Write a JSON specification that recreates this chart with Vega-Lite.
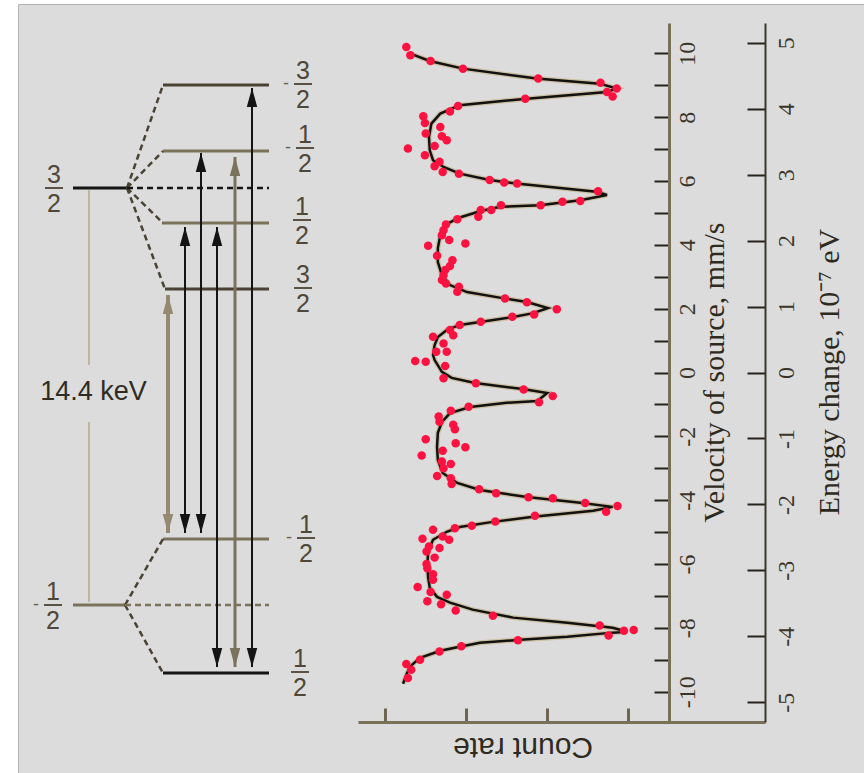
{
  "$schema": "https://vega.github.io/schema/vega-lite/v6.json",
  "width": 864,
  "height": 773,
  "autosize": {"type": "fit", "contains": "padding"},
  "padding": {"left": 18, "top": 4, "right": 0, "bottom": 0},
  "background": "#ffffff",
  "config": {"view": {"fill": "#dcdcdc", "stroke": "#b4b4b4", "strokeWidth": 1}, "axis": {"grid": false}},
  "datasets": {
    "fit": [
      {"v":-9.75,"c":3.78},{"v":-9.41,"c":3.73},{"v":-9.16,"c":3.67},{"v":-8.94,"c":3.57},{"v":-8.72,"c":3.32},{"v":-8.59,"c":3.08},{"v":-8.47,"c":2.83},{"v":-8.37,"c":2.33},{"v":-8.28,"c":1.75},{"v":-8.15,"c":1.19},{"v":-8.12,"c":1.01},{"v":-8.00,"c":1.19},{"v":-7.84,"c":1.75},{"v":-7.68,"c":2.42},{"v":-7.43,"c":2.92},{"v":-7.21,"c":3.20},{"v":-7.03,"c":3.36},{"v":-6.74,"c":3.45},{"v":-6.43,"c":3.47},{"v":-6.03,"c":3.48},{"v":-5.62,"c":3.47},{"v":-5.24,"c":3.41},{"v":-4.99,"c":3.24},{"v":-4.84,"c":3.08},{"v":-4.68,"c":2.67},{"v":-4.52,"c":2.17},{"v":-4.33,"c":1.43},{"v":-4.21,"c":1.19},{"v":-4.08,"c":1.59},{"v":-3.90,"c":2.25},{"v":-3.68,"c":2.83},{"v":-3.46,"c":3.11},{"v":-3.15,"c":3.29},{"v":-2.74,"c":3.35},{"v":-2.33,"c":3.36},{"v":-1.89,"c":3.35},{"v":-1.55,"c":3.30},{"v":-1.27,"c":3.20},{"v":-1.08,"c":2.95},{"v":-0.95,"c":2.50},{"v":-0.89,"c":2.12},{"v":-0.64,"c":2.00},{"v":-0.52,"c":2.30},{"v":-0.33,"c":2.89},{"v":-0.17,"c":3.18},{"v":0.02,"c":3.30},{"v":0.39,"c":3.39},{"v":0.55,"c":3.41},{"v":0.86,"c":3.39},{"v":1.11,"c":3.35},{"v":1.33,"c":3.24},{"v":1.49,"c":3.08},{"v":1.58,"c":2.83},{"v":1.74,"c":2.42},{"v":1.86,"c":2.17},{"v":2.02,"c":1.99},{"v":2.21,"c":2.25},{"v":2.33,"c":2.55},{"v":2.52,"c":2.99},{"v":2.74,"c":3.20},{"v":3.05,"c":3.30},{"v":3.46,"c":3.35},{"v":3.90,"c":3.35},{"v":4.30,"c":3.32},{"v":4.62,"c":3.26},{"v":4.84,"c":3.10},{"v":5.05,"c":2.83},{"v":5.19,"c":2.58},{"v":5.24,"c":2.09},{"v":5.40,"c":1.59},{"v":5.56,"c":1.26},{"v":5.66,"c":1.39},{"v":5.92,"c":2.38},{"v":6.03,"c":2.71},{"v":6.23,"c":3.08},{"v":6.44,"c":3.28},{"v":6.65,"c":3.41},{"v":6.96,"c":3.45},{"v":7.38,"c":3.46},{"v":7.80,"c":3.43},{"v":8.11,"c":3.32},{"v":8.37,"c":3.08},{"v":8.58,"c":2.25},{"v":8.79,"c":1.26},{"v":8.90,"c":1.14},{"v":9.05,"c":1.35},{"v":9.21,"c":2.13},{"v":9.52,"c":3.04},{"v":9.76,"c":3.45},{"v":9.99,"c":3.69}
    ],
    "pts": [
      {"v":10.20,"c":3.74},{"v":9.94,"c":3.69},{"v":9.76,"c":3.44},{"v":9.52,"c":3.04},{"v":9.21,"c":2.11},{"v":9.08,"c":1.34},{"v":8.90,"c":1.14},{"v":8.79,"c":1.26},{"v":8.65,"c":1.19},{"v":8.58,"c":2.27},{"v":8.35,"c":3.10},{"v":8.18,"c":3.20},{"v":8.03,"c":3.53},{"v":7.82,"c":3.51},{"v":7.69,"c":3.32},{"v":7.49,"c":3.50},{"v":7.40,"c":3.30},{"v":7.28,"c":3.24},{"v":7.02,"c":3.72},{"v":7.10,"c":3.39},{"v":6.81,"c":3.51},{"v":6.60,"c":3.33},{"v":6.46,"c":3.39},{"v":6.28,"c":3.29},{"v":6.23,"c":3.09},{"v":6.03,"c":2.71},{"v":5.95,"c":2.53},{"v":5.92,"c":2.37},{"v":5.68,"c":1.37},
      {"v":5.37,"c":1.59},{"v":5.35,"c":1.81},{"v":5.24,"c":2.08},{"v":5.24,"c":2.57},{"v":5.09,"c":2.69},{"v":5.09,"c":2.82},{"v":4.88,"c":2.85},{"v":4.80,"c":3.11},{"v":4.64,"c":3.25},{"v":4.46,"c":3.28},{"v":4.30,"c":3.30},{"v":4.15,"c":3.21},{"v":3.97,"c":3.47},{"v":4.04,"c":3.01},{"v":3.66,"c":3.36},{"v":3.52,"c":3.17},{"v":3.34,"c":3.20},{"v":3.21,"c":3.26},{"v":3.05,"c":3.28},{"v":2.90,"c":3.30},{"v":2.79,"c":3.25},{"v":2.69,"c":3.09},{"v":2.53,"c":3.11},{"v":2.32,"c":2.52},{"v":2.20,"c":2.25},{"v":1.98,"c":1.88},{"v":1.82,"c":2.16},{"v":1.75,"c":2.43},{"v":1.59,"c":2.82},{"v":1.49,"c":3.08},{"v":1.33,"c":3.20},{"v":1.17,"c":3.16},{"v":1.12,"c":3.41},{"v":0.91,"c":3.28},{"v":0.65,"c":3.24},{"v":0.65,"c":3.37},
      {"v":0.36,"c":3.63},{"v":0.34,"c":3.50},{"v":0.20,"c":3.26},{"v":-0.18,"c":3.28},{"v":-0.34,"c":2.88},{"v":-0.53,"c":2.29},{"v":-0.74,"c":1.93},{"v":-0.93,"c":2.10},{"v":-1.07,"c":2.97},{"v":-1.20,"c":3.19},{"v":-1.38,"c":3.34},{"v":-1.54,"c":3.33},{"v":-1.64,"c":3.16},{"v":-1.78,"c":3.14},{"v":-2.09,"c":3.50},{"v":-2.22,"c":3.13},{"v":-2.34,"c":3.01},{"v":-2.45,"c":3.29},{"v":-2.60,"c":3.55},{"v":-2.79,"c":3.30},{"v":-2.87,"c":3.19},{"v":-3.00,"c":3.28},{"v":-3.24,"c":3.36},{"v":-3.31,"c":3.19},{"v":-3.49,"c":3.18},{"v":-3.66,"c":2.84},{"v":-3.78,"c":2.63},{"v":-3.91,"c":2.23},{"v":-3.94,"c":1.93},{"v":-4.09,"c":1.53},{"v":-4.18,"c":1.13},{"v":-4.36,"c":1.27},{"v":-4.49,"c":2.15},{"v":-4.67,"c":2.64},{"v":-4.80,"c":2.93},{"v":-4.88,"c":3.14},{"v":-4.93,"c":3.41},
      {"v":-5.21,"c":3.54},{"v":-5.14,"c":3.29},{"v":-5.24,"c":3.21},{"v":-5.45,"c":3.46},{"v":-5.50,"c":3.33},{"v":-5.61,"c":3.49},{"v":-5.80,"c":3.39},{"v":-6.00,"c":3.49},{"v":-6.13,"c":3.48},{"v":-6.32,"c":3.41},{"v":-6.49,"c":3.41},{"v":-6.72,"c":3.60},{"v":-6.88,"c":3.44},{"v":-6.96,"c":3.24},{"v":-7.17,"c":3.48},{"v":-7.26,"c":3.31},{"v":-7.46,"c":3.13},{"v":-7.62,"c":2.67},{"v":-7.93,"c":1.35},{"v":-8.09,"c":1.05},{"v":-8.07,"c":0.93},{"v":-8.24,"c":1.24},{"v":-8.39,"c":2.36},{"v":-8.58,"c":3.06},{"v":-8.74,"c":3.33},{"v":-9.00,"c":3.57},{"v":-9.13,"c":3.74},{"v":-9.31,"c":3.68},{"v":-9.57,"c":3.72}
    ],
    "energy": [{"E": -5}, {"E": 5}],
    "levels": [
      {"x":163,"x2":269,"y":688,"g":"dark"},{"x":163,"x2":269,"y":622,"g":"olive"},{"x":162,"x2":269,"y":550,"g":"olive"},{"x":165,"x2":269,"y":484,"g":"dark"},{"x":73,"x2":127,"y":585,"g":"black"},{"x":163,"x2":269,"y":234,"g":"olive"},{"x":163,"x2":269,"y":100,"g":"black"},{"x":73,"x2":125,"y":168,"g":"olive"}
    ],
    "dashes": [
      {"x":127,"y":585,"x2":163,"y2":688,"g":"dark"},{"x":127,"y":585,"x2":163,"y2":622,"g":"dark"},{"x":127,"y":585,"x2":163,"y2":550,"g":"dark"},{"x":127,"y":585,"x2":165,"y2":484,"g":"dark"},{"x":125,"y":168,"x2":163,"y2":234,"g":"dark"},{"x":125,"y":168,"x2":163,"y2":100,"g":"dark"},{"x":127,"y":585,"x2":269,"y2":585,"g":"black"},{"x":125,"y":168,"x2":269,"y2":168,"g":"olive"}
    ],
    "kevline": [{"x":89,"y":583,"y2":408},{"x":89,"y":351,"y2":171}],
    "arrows": [
      {"x":168,"top":478,"bot":240,"g":"tan"},{"x":185,"top":546,"bot":240,"g":"black"},{"x":201,"top":620,"bot":240,"g":"black"},{"x":217,"top":546,"bot":106,"g":"black"},{"x":235,"top":616,"bot":106,"g":"olive"},{"x":252,"top":685,"bot":106,"g":"black"}
    ],
    "fracs": [
      {"x":303,"y":689,"num":"3","den":"2","s":"-"},{"x":305,"y":625,"num":"1","den":"2","s":"-"},{"x":302,"y":553,"num":"1","den":"2","s":""},{"x":303,"y":485,"num":"3","den":"2","s":""},{"x":54,"y":585,"num":"3","den":"2","s":""},{"x":53,"y":168,"num":"1","den":"2","s":"-"},{"x":306,"y":235,"num":"1","den":"2","s":"-"},{"x":300,"y":101,"num":"1","den":"2","s":""}
    ],
    "kev": [{"x":93.5,"y":381,"t":"14.4 keV"}]
  },
  "layer": [
    {
      "layer": [
        {
          "data": {"name": "kevline"},
          "mark": {"type": "rule", "color": "#b9a98a", "strokeWidth": 1.5},
          "encoding": {
            "x": {"field": "x", "type": "quantitative", "scale": {"domain": [18, 864], "nice": false, "zero": false}, "axis": null},
            "y": {"field": "y", "type": "quantitative", "scale": {"domain": [0, 769], "nice": false, "zero": false}, "axis": null},
            "y2": {"field": "y2"}
          }
        },
        {
          "data": {"name": "levels"},
          "mark": {"type": "rule", "strokeWidth": 3},
          "encoding": {
            "x": {"field": "x", "type": "quantitative", "scale": {"domain": [18, 864], "nice": false, "zero": false}, "axis": null},
            "x2": {"field": "x2"},
            "y": {"field": "y", "type": "quantitative", "scale": {"domain": [0, 769], "nice": false, "zero": false}, "axis": null},
            "color": {"field": "g", "type": "nominal", "scale": {"domain": ["black", "dark", "olive", "tan"], "range": ["#141414", "#4a4334", "#7b725c", "#958a70"]}, "legend": null}
          }
        },
        {
          "data": {"name": "dashes"},
          "mark": {"type": "rule", "strokeWidth": 2.5, "strokeDash": [6, 4]},
          "encoding": {
            "x": {"field": "x", "type": "quantitative", "scale": {"domain": [18, 864], "nice": false, "zero": false}, "axis": null},
            "x2": {"field": "x2"},
            "y": {"field": "y", "type": "quantitative", "scale": {"domain": [0, 769], "nice": false, "zero": false}, "axis": null},
            "y2": {"field": "y2"},
            "color": {"field": "g", "type": "nominal", "legend": null}
          }
        },
        {
          "data": {"name": "arrows"},
          "mark": {"type": "rule"},
          "encoding": {
            "x": {"field": "x", "type": "quantitative", "scale": {"domain": [18, 864], "nice": false, "zero": false}, "axis": null},
            "y": {"field": "top", "type": "quantitative", "scale": {"domain": [0, 769], "nice": false, "zero": false}, "axis": null},
            "y2": {"field": "bot"},
            "color": {"field": "g", "type": "nominal", "legend": null},
            "strokeWidth": {"field": "g", "type": "nominal", "scale": {"domain": ["black", "olive", "tan"], "range": [2, 4, 3]}, "legend": null}
          }
        },
        {
          "data": {"name": "arrows"},
          "mark": {"type": "point", "shape": "M0,-1L0.55,1L-0.55,1Z", "size": 361, "filled": true, "opacity": 1, "yOffset": 9.5},
          "encoding": {
            "x": {"field": "x", "type": "quantitative", "scale": {"domain": [18, 864], "nice": false, "zero": false}, "axis": null},
            "y": {"field": "top", "type": "quantitative", "scale": {"domain": [0, 769], "nice": false, "zero": false}, "axis": null},
            "color": {"field": "g", "type": "nominal", "legend": null}
          }
        },
        {
          "data": {"name": "arrows"},
          "mark": {"type": "point", "shape": "M0,1L0.55,-1L-0.55,-1Z", "size": 361, "filled": true, "opacity": 1, "yOffset": -9.5},
          "encoding": {
            "x": {"field": "x", "type": "quantitative", "scale": {"domain": [18, 864], "nice": false, "zero": false}, "axis": null},
            "y": {"field": "bot", "type": "quantitative", "scale": {"domain": [0, 769], "nice": false, "zero": false}, "axis": null},
            "color": {"field": "g", "type": "nominal", "legend": null}
          }
        },
        {
          "data": {"name": "fracs"},
          "mark": {"type": "point", "shape": "M-1,0L1,0", "size": 324, "filled": false, "strokeWidth": 2, "color": "#5a5242", "opacity": 1},
          "encoding": {
            "x": {"field": "x", "type": "quantitative", "scale": {"domain": [18, 864], "nice": false, "zero": false}, "axis": null},
            "y": {"field": "y", "type": "quantitative", "scale": {"domain": [0, 769], "nice": false, "zero": false}, "axis": null}
          }
        },
        {
          "data": {"name": "fracs"},
          "mark": {"type": "text", "font": "Liberation Sans", "fontSize": 25, "color": "#4f4838", "align": "center", "baseline": "bottom", "dy": 0},
          "encoding": {
            "x": {"field": "x", "type": "quantitative", "scale": {"domain": [18, 864], "nice": false, "zero": false}, "axis": null},
            "y": {"field": "y", "type": "quantitative", "scale": {"domain": [0, 769], "nice": false, "zero": false}, "axis": null},
            "text": {"field": "num"}
          }
        },
        {
          "data": {"name": "fracs"},
          "mark": {"type": "text", "font": "Liberation Sans", "fontSize": 25, "color": "#4f4838", "align": "center", "baseline": "top", "dy": 4},
          "encoding": {
            "x": {"field": "x", "type": "quantitative", "scale": {"domain": [18, 864], "nice": false, "zero": false}, "axis": null},
            "y": {"field": "y", "type": "quantitative", "scale": {"domain": [0, 769], "nice": false, "zero": false}, "axis": null},
            "text": {"field": "den"}
          }
        },
        {
          "data": {"name": "fracs"},
          "mark": {"type": "text", "font": "Liberation Sans", "fontSize": 18, "color": "#6a624f", "align": "center", "baseline": "middle", "dx": -17},
          "encoding": {
            "x": {"field": "x", "type": "quantitative", "scale": {"domain": [18, 864], "nice": false, "zero": false}, "axis": null},
            "y": {"field": "y", "type": "quantitative", "scale": {"domain": [0, 769], "nice": false, "zero": false}, "axis": null},
            "text": {"field": "s"}
          }
        },
        {
          "data": {"name": "kev"},
          "mark": {"type": "text", "font": "Liberation Sans", "fontSize": 27, "color": "#2f2c24", "align": "center", "baseline": "middle"},
          "encoding": {
            "x": {"field": "x", "type": "quantitative", "scale": {"domain": [18, 864], "nice": false, "zero": false}, "axis": null},
            "y": {"field": "y", "type": "quantitative", "scale": {"domain": [0, 769], "nice": false, "zero": false}, "axis": null},
            "text": {"field": "t"}
          }
        }
      ]
    },
    {
      "encoding": {
        "x": {
          "field": "c", "type": "quantitative",
          "scale": {"domain": [-0.693, 4.337], "range": [747, 340], "nice": false, "zero": false},
          "axis": {
            "orient": "bottom", "offset": -51, "values": [1, 2, 3, 4], "labels": false,
            "tickSize": -14, "tickWidth": 3, "tickColor": "#6e6650",
            "domainColor": "#7a7058", "domainWidth": 3,
            "title": "Count rate", "titleFont": "Liberation Sans", "titleFontSize": 30, "titleFontWeight": "normal",
            "titleColor": "#2e2a20", "titleAngle": 180, "titleAlign": "center", "titleBaseline": "middle",
            "titleX": 504.5, "titleY": 24.5
          }
        },
        "y": {
          "field": "v", "type": "quantitative",
          "scale": {"domain": [-10.95, 10.95], "range": [718, 19], "nice": false, "zero": false},
          "axis": {
            "orient": "right", "offset": -195,
            "values": [-10, -9, -8, -7, -6, -5, -4, -3, -2, -1, 0, 1, 2, 3, 4, 5, 6, 7, 8, 9, 10],
            "tickSize": -15, "tickWidth": 2, "tickColor": "#26231b",
            "domainColor": "#7a7058", "domainWidth": 3,
            "labelExpr": "datum.value % 2 == 0 ? '' + datum.value : ''",
            "labelAngle": 270, "labelAlign": "center", "labelBaseline": "top", "labelPadding": 21,
            "labelFont": "Liberation Serif", "labelFontSize": 24, "labelColor": "#3a3528",
            "labelOverlap": false, "labelFlush": false, "labelBound": false,
            "title": "Velocity of source, mm/s", "titleFont": "Liberation Serif", "titleFontSize": 30, "titleFontWeight": "normal",
            "titleColor": "#2e2a20", "titleAngle": 270, "titleAlign": "center", "titleBaseline": "middle",
            "titleX": 45, "titleY": 368
          }
        }
      },
      "layer": [
        {
          "data": {"name": "fit"},
          "mark": {"type": "line", "color": "#c9b892", "strokeWidth": 5, "opacity": 0.8},
          "encoding": {"order": {"field": "v", "type": "quantitative"}}
        },
        {
          "data": {"name": "fit"},
          "mark": {"type": "line", "color": "#111111", "strokeWidth": 2.5},
          "encoding": {"order": {"field": "v", "type": "quantitative"}}
        },
        {
          "data": {"name": "pts"},
          "mark": {"type": "point", "filled": true, "color": "#fc1240", "size": 72, "opacity": 1}
        }
      ]
    },
    {
      "data": {"name": "energy"},
      "mark": {"type": "point", "opacity": 0},
      "encoding": {
        "y": {
          "field": "E", "type": "quantitative",
          "scale": {"domain": [-5.3, 5.3], "range": [718, 19], "nice": false, "zero": false},
          "axis": {
            "orient": "right", "offset": -99,
            "values": [-5, -4, -3, -2, -1, 0, 1, 2, 3, 4, 5],
            "tickSize": -18, "tickWidth": 2, "tickColor": "#26231b",
            "domainColor": "#3a362a", "domainWidth": 2,
            "labelExpr": "'' + datum.value",
            "labelAngle": 270, "labelAlign": "center", "labelBaseline": "top", "labelPadding": 27,
            "labelFont": "Liberation Serif", "labelFontSize": 24, "labelColor": "#3a3528",
            "labelOverlap": false, "labelFlush": false, "labelBound": false,
            "title": "Energy change, 10⁻⁷ eV", "titleFont": "Liberation Serif", "titleFontSize": 30, "titleFontWeight": "normal",
            "titleColor": "#2e2a20", "titleAngle": 270, "titleAlign": "center", "titleBaseline": "middle",
            "titleX": 64, "titleY": 367.5
          }
        }
      }
    }
  ],
  "resolve": {"scale": {"x": "independent", "y": "independent"}}
}
